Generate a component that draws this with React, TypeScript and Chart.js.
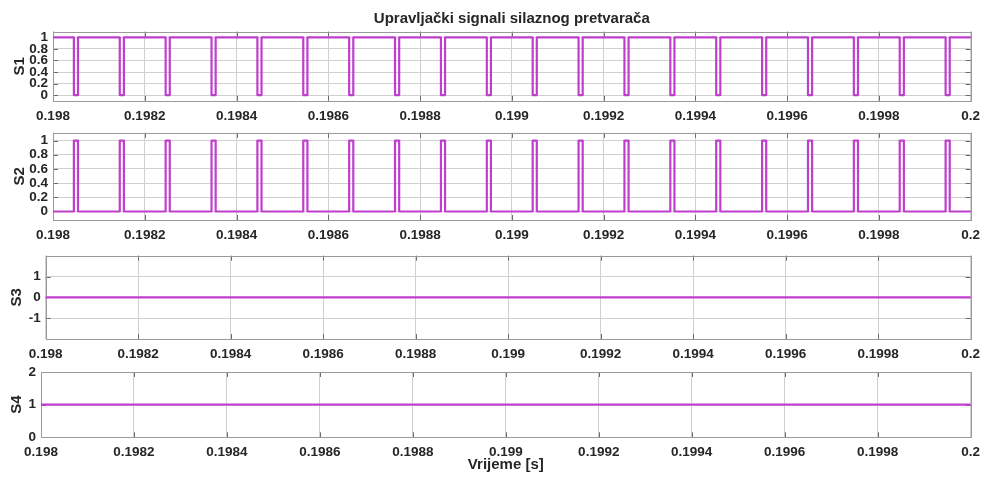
import React, { useEffect, useRef } from "react";
import { Chart, registerables } from "chart.js";

Chart.register(...registerables);

// ---------------- data ----------------
const chartTitle = "Upravljački signali silaznog pretvarača";
const xAxisLabel = "Vrijeme [s]";
const xStart = 0.198;
const xEnd = 0.2;
const xTicks = [0.198, 0.1982, 0.1984, 0.1986, 0.1988, 0.199, 0.1992, 0.1994, 0.1996, 0.1998, 0.2];

// switching instants of S1 (falling to 0) and back (rising to 1); S2 is the complement
const s1FallTimes = [
  0.1980455, 0.1981455, 0.1982455, 0.1983455, 0.1984455, 0.1985455, 0.1986455, 0.1987455, 0.1988455, 0.1989455,
  0.1990455, 0.1991455, 0.1992455, 0.1993455, 0.1994455, 0.1995455, 0.1996455, 0.1997455, 0.1998455, 0.1999455,
];
const s1RiseTimes = [
  0.1980545, 0.1981545, 0.1982545, 0.1983545, 0.1984545, 0.1985545, 0.1986545, 0.1987545, 0.1988545, 0.1989545,
  0.1990545, 0.1991545, 0.1992545, 0.1993545, 0.1994545, 0.1995545, 0.1996545, 0.1997545, 0.1998545, 0.1999545,
];
const s1Levels = [1, 0]; // [on, off]
const s2Levels = [0, 1];

const s3Times = [0.198, 0.2];
const s3Values = [0, 0];
const s4Times = [0.198, 0.2];
const s4Values = [1, 1];

const s12YTicks = [0, 0.2, 0.4, 0.6, 0.8, 1];
const s3YTicks = [-1, 0, 1];
const s4YTicks = [0, 1, 2];

// ---------------- helpers ----------------
function pwmPoints(falls: number[], rises: number[], levels: number[]) {
  const [hi, lo] = levels;
  const pts: { x: number; y: number }[] = [{ x: xStart, y: hi }];
  for (let i = 0; i < falls.length; i++) {
    pts.push({ x: falls[i], y: hi }, { x: falls[i], y: lo }, { x: rises[i], y: lo }, { x: rises[i], y: hi });
  }
  pts.push({ x: xEnd, y: hi });
  return pts;
}
function linePoints(t: number[], v: number[]) {
  return t.map((x, i) => ({ x, y: v[i] }));
}

const W = 987;
const H = 480;
const RIGHT = 975.5;
const FONT = "'Liberation Sans', Arial, Helvetica, sans-serif";
const TEXT = "#262626";
const LINE = "#C03ECE";
const GRID = "#d0d0d0";
const BOX = "#9a9a9a";
const TICKC = "#6a6a6a";

const panels = [
  { name: "S1", top: 31.7, bottom: 100.8, left: 53, yMin: -0.1, yMax: 1.1, yTicks: s12YTicks, titlePad: 11, data: pwmPoints(s1FallTimes, s1RiseTimes, s1Levels), first: true, last: false },
  { name: "S2", top: 132.8, bottom: 220, left: 53, yMin: -0.12, yMax: 1.11, yTicks: s12YTicks, titlePad: 11, data: pwmPoints(s1FallTimes, s1RiseTimes, s2Levels), first: false, last: false },
  { name: "S3", top: 255.7, bottom: 339, left: 45.7, yMin: -2, yMax: 2, yTicks: s3YTicks, titlePad: 8, data: linePoints(s3Times, s3Values), first: false, last: false },
  { name: "S4", top: 372, bottom: 437.3, left: 41, yMin: 0, yMax: 2, yTicks: s4YTicks, titlePad: 8, data: linePoints(s4Times, s4Values), first: false, last: true },
];

const boxPlugin = {
  id: "matlabBox",
  beforeDatasetsDraw(chart: any) {
    const { ctx, chartArea } = chart;
    const { left, right, top, bottom } = chartArea;
    ctx.save();
    ctx.strokeStyle = TICKC;
    ctx.lineWidth = 1;
    const tl = 5;
    const xs = chart.scales.x;
    const ys = chart.scales.y;
    ctx.beginPath();
    xs.ticks.forEach((t: any) => {
      const px = Math.round(xs.getPixelForValue(t.value)) + 0.5;
      ctx.moveTo(px, bottom);
      ctx.lineTo(px, bottom - tl);
      ctx.moveTo(px, top);
      ctx.lineTo(px, top + tl);
    });
    ys.ticks.forEach((t: any) => {
      const py = Math.round(ys.getPixelForValue(t.value)) + 0.5;
      ctx.moveTo(left, py);
      ctx.lineTo(left + tl, py);
      ctx.moveTo(right, py);
      ctx.lineTo(right - tl, py);
    });
    ctx.stroke();
    ctx.strokeStyle = BOX;
    ctx.strokeRect(Math.round(left) + 0.5, Math.round(top) + 0.5, Math.round(right - left), Math.round(bottom - top));
    ctx.restore();
  },
};

function makeConfig(p: (typeof panels)[number]): any {
  const xAxisH = 40;
  return {
    type: "line",
    data: {
      datasets: [
        {
          data: p.data,
          borderColor: LINE,
          borderWidth: 2.2,
          borderJoinStyle: "round",
          borderCapStyle: "round",
          pointRadius: 0,
          tension: 0,
          fill: false,
        },
      ],
    },
    options: {
      responsive: false,
      devicePixelRatio: 1,
      animation: false,
      parsing: false,
      normalized: true,
      events: [],
      layout: {
        padding: { top: p.first ? 0 : p.top, bottom: H - p.bottom - xAxisH, left: 0, right: W - RIGHT },
      },
      plugins: {
        legend: { display: false },
        tooltip: { enabled: false },
        title: p.first
          ? {
              display: true,
              text: chartTitle,
              fullSize: false,
              color: TEXT,
              font: { family: FONT, size: 15, weight: "bold", lineHeight: 1.2 },
              padding: { top: 9.8, bottom: p.top - 9.8 - 18 },
            }
          : { display: false },
      },
      scales: {
        x: {
          type: "linear",
          min: xStart,
          max: xEnd,
          bounds: "data",
          afterBuildTicks: (s: any) => {
            s.ticks = xTicks.map((v) => ({ value: v }));
          },
          afterFit: (s: any) => {
            s.height = xAxisH;
          },
          grid: { color: GRID, lineWidth: 1, drawTicks: false },
          border: { display: false },
          ticks: {
            padding: 7,
            color: TEXT,
            maxRotation: 0,
            autoSkip: false,
            font: { family: FONT, size: 13.5, weight: "bold" },
            callback: (v: any) => String(v),
          },
          title: p.last
            ? {
                display: true,
                text: xAxisLabel,
                color: TEXT,
                font: { family: FONT, size: 15, weight: "bold", lineHeight: 1.2 },
                padding: { top: 0, bottom: 3.5 },
              }
            : { display: false },
        },
        y: {
          type: "linear",
          min: p.yMin,
          max: p.yMax,
          bounds: "data",
          afterBuildTicks: (s: any) => {
            s.ticks = p.yTicks.map((v) => ({ value: v }));
          },
          afterFit: (s: any) => {
            s.width = p.left;
          },
          grid: { color: GRID, lineWidth: 1, drawTicks: false },
          border: { display: false },
          ticks: {
            padding: 5,
            color: TEXT,
            autoSkip: false,
            font: { family: FONT, size: 13.5, weight: "bold", lineHeight: 1.2 },
            callback: (v: any) => String(v),
          },
          title: {
            display: true,
            text: p.name,
            color: TEXT,
            font: { family: FONT, size: 15, weight: "bold", lineHeight: 1.2 },
            padding: { top: p.titlePad, bottom: 0 },
          },
        },
      },
    },
    plugins: [boxPlugin],
  };
}

export default function App() {
  const refs = [useRef<HTMLCanvasElement>(null), useRef<HTMLCanvasElement>(null), useRef<HTMLCanvasElement>(null), useRef<HTMLCanvasElement>(null)];
  useEffect(() => {
    const charts = panels.map((p, i) => new Chart(refs[i].current as HTMLCanvasElement, makeConfig(p)));
    return () => charts.forEach((c) => c.destroy());
  }, []);
  return (
    <div style={{ position: "absolute", left: 0, top: 0, width: W, height: H, background: "#ffffff" }}>
      {panels.map((p, i) => (
        <canvas
          key={p.name}
          ref={refs[i]}
          width={W}
          height={H}
          style={{ position: "absolute", left: 0, top: 0, width: W, height: H, display: "block" }}
        />
      ))}
    </div>
  );
}
